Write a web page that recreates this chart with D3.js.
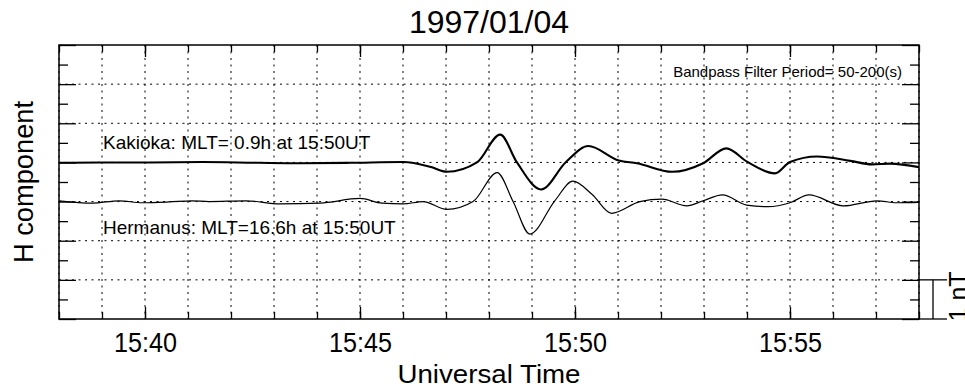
<!DOCTYPE html>
<html>
<head>
<meta charset="utf-8">
<script src="https://cdn.jsdelivr.net/npm/d3@7"></script>
<style>
  body { margin: 0; background: #fff; }
  svg { display: block; }
  text { font-family: "Liberation Sans", Arial, Helvetica, sans-serif; fill: #000; }
</style>
</head>
<body>
<div id="chart"></div>
<script>
// filtered H component (nT, deviation from station baseline), time in minutes after 15:00 UT
const kakiokaTime = [38.00, 38.95, 40.12, 41.33, 42.65, 43.60, 44.77, 46.00, 46.63, 47.02, 47.72, 48.26, 48.65, 49.21, 49.79, 50.31, 51.02, 51.44, 52.26, 52.98, 53.52, 54.00, 54.65, 55.00, 55.63, 56.40, 56.91, 57.33, 58.00];
const kakiokaH    = [-0.01, 0.00, 0.00, 0.01, -0.01, -0.02, -0.01, 0.01, -0.11, -0.24, 0.00, 0.71, 0.00, -0.69, 0.01, 0.42, 0.05, -0.02, -0.24, -0.02, 0.36, 0.02, -0.28, 0.01, 0.15, 0.04, -0.05, -0.03, -0.12];

const hermanusTime = [38.00, 38.77, 39.40, 39.93, 40.56, 41.09, 41.49, 42.35, 43.14, 44.07, 45.00, 45.51, 46.00, 46.47, 47.02, 47.63, 48.19, 48.56, 48.95, 49.53, 49.95, 50.40, 50.85, 51.51, 52.02, 52.60, 52.98, 53.43, 53.99, 54.49, 55.00, 55.44, 56.24, 57.02, 57.48, 58.00];
const hermanusH    = [0.02, -0.04, 0.02, -0.03, -0.01, 0.02, 0.00, 0.02, -0.06, -0.04, 0.08, -0.04, -0.06, 0.00, -0.20, 0.00, 0.74, 0.00, -0.83, 0.02, 0.52, 0.18, -0.30, 0.00, 0.06, -0.11, 0.02, 0.17, -0.09, -0.13, -0.03, 0.17, -0.11, 0.02, -0.03, -0.02];

const stations = ['Kakioka', 'Hermanus'];
const stationOffset = [4, 3];   // nT, where each trace is drawn
const stationLabel = ['Kakioka: MLT= 0.9h at 15:50UT', 'Hermanus: MLT=16.6h at 15:50UT'];
const xTickLabels = ['15:40', '15:45', '15:50', '15:55'];
const yRange = [0, 7];
const titleText = '1997/01/04';
const filterText = 'Bandpass Filter Period= 50-200(s)';

const width = 965, height = 389;
const margin = { top: 45, right: 46, bottom: 70, left: 59 };
const innerW = width - margin.left - margin.right;
const innerH = height - margin.top - margin.bottom;

const t0 = Date.UTC(1997, 0, 4, 15, 0, 0);
const toDate = m => new Date(t0 + m * 60000);

const svg = d3.select('#chart').append('svg')
    .attr('width', width)
    .attr('height', height);

const g = svg.append('g')
    .attr('transform', `translate(${margin.left},${margin.top})`);

const x = d3.scaleUtc()
    .domain([toDate(38), toDate(58)])
    .range([0, innerW]);

const y = d3.scaleLinear()
    .domain(yRange)
    .range([innerH, 0]);

const fmt = d3.utcFormat('%H:%M');
const minorX = x.ticks(d3.utcMinute.every(1));
const majorX = x.ticks(d3.utcMinute.every(5)).filter(d => xTickLabels.includes(fmt(d)));
const majorY = d3.range(yRange[0], yRange[1] + 1);
const minorY = d3.range(yRange[0] + 0.5, yRange[1], 1);

// dotted grid
g.append('g').selectAll('line')
    .data(minorX)
    .join('line')
    .attr('x1', d => x(d)).attr('x2', d => x(d))
    .attr('y1', 0).attr('y2', innerH)
    .attr('stroke', '#000')
    .attr('stroke-width', 1)
    .attr('stroke-dasharray', '2,4.5');

g.append('g').selectAll('line')
    .data(majorY.slice(1, -1))
    .join('line')
    .attr('x1', 0).attr('x2', innerW)
    .attr('y1', d => y(d)).attr('y2', d => y(d))
    .attr('stroke', '#000')
    .attr('stroke-width', 1)
    .attr('stroke-dasharray', '2,4.5');

// inward ticks on all four sides
function styleAxis(sel) {
    sel.select('.domain').remove();
    sel.selectAll('.tick line').attr('stroke', '#000').attr('stroke-width', 1.3);
}

g.append('g').attr('transform', `translate(0,${innerH})`)
    .call(d3.axisBottom(x).tickValues(minorX).tickSize(-7).tickFormat(''))
    .call(styleAxis);
g.append('g')
    .call(d3.axisTop(x).tickValues(minorX).tickSize(-7).tickFormat(''))
    .call(styleAxis);
g.append('g')
    .call(d3.axisTop(x).tickValues(majorX).tickSize(-12).tickFormat(''))
    .call(styleAxis);

const xAxis = g.append('g').attr('transform', `translate(0,${innerH})`)
    .call(d3.axisBottom(x).tickValues(majorX).tickSize(-12).tickPadding(14).tickFormat(fmt))
    .call(styleAxis);
xAxis.selectAll('.tick text')
    .style('font-size', '27px')
    .attr('textLength', 63)
    .attr('lengthAdjust', 'spacingAndGlyphs');

g.append('g')
    .call(d3.axisLeft(y).tickValues(majorY).tickSize(-17).tickFormat(''))
    .call(styleAxis);
g.append('g')
    .call(d3.axisLeft(y).tickValues(minorY).tickSize(-9).tickFormat(''))
    .call(styleAxis);
g.append('g').attr('transform', `translate(${innerW},0)`)
    .call(d3.axisRight(y).tickValues(majorY).tickSize(-17).tickFormat(''))
    .call(styleAxis);
g.append('g').attr('transform', `translate(${innerW},0)`)
    .call(d3.axisRight(y).tickValues(minorY).tickSize(-9).tickFormat(''))
    .call(styleAxis);

// traces
const series = [
    { name: stations[0], time: kakiokaTime, h: kakiokaH, offset: stationOffset[0], w: 2.1 },
    { name: stations[1], time: hermanusTime, h: hermanusH, offset: stationOffset[1], w: 1.2 }
];

svg.append('clipPath').attr('id', 'plot-clip')
    .append('rect').attr('x', 0).attr('y', 0).attr('width', innerW).attr('height', innerH);

const line = d3.line()
    .x(d => x(toDate(d.t)))
    .y(d => y(d.v))
    .curve(d3.curveMonotoneX);

series.forEach(s => {
    const pts = s.time.map((t, i) => ({ t: t, v: s.offset + s.h[i] }));
    g.append('path')
        .datum(pts)
        .attr('clip-path', 'url(#plot-clip)')
        .attr('fill', 'none')
        .attr('stroke', '#000')
        .attr('stroke-width', s.w)
        .attr('stroke-linejoin', 'round')
        .attr('d', line);
});

// frame
g.append('rect')
    .attr('width', innerW).attr('height', innerH)
    .attr('fill', 'none')
    .attr('stroke', '#000')
    .attr('stroke-width', 1.5);

// station labels
g.append('text')
    .attr('x', x(toDate(39)) + 1)
    .attr('y', y(stationOffset[0] + 0.35))
    .style('font-size', '19px')
    .text(stationLabel[0]);
g.append('text')
    .attr('x', x(toDate(39)) + 1)
    .attr('y', y(stationOffset[1] - 0.83))
    .style('font-size', '19px')
    .text(stationLabel[1]);

g.append('text')
    .attr('x', innerW - 17)
    .attr('y', 32)
    .attr('text-anchor', 'end')
    .style('font-size', '15px')
    .text(filterText);

// scale bar: 1 nT
const bar = svg.append('g').attr('transform', `translate(${margin.left + innerW},${margin.top})`);
bar.append('line')
    .attr('x1', 0).attr('x2', 28)
    .attr('y1', y(1)).attr('y2', y(1))
    .attr('stroke', '#000').attr('stroke-width', 1.3);
bar.append('line')
    .attr('x1', 0).attr('x2', 28)
    .attr('y1', y(0)).attr('y2', y(0))
    .attr('stroke', '#000').attr('stroke-width', 1.3);
bar.append('line')
    .attr('x1', 14).attr('x2', 14)
    .attr('y1', y(1)).attr('y2', y(0))
    .attr('stroke', '#000').attr('stroke-width', 1.3);
bar.append('text')
    .attr('transform', `translate(48,${(y(1) + y(0)) / 2 - 3}) rotate(-90)`)
    .attr('text-anchor', 'middle')
    .style('font-size', '25px')
    .text('1 nT');

// titles
svg.append('text')
    .attr('x', margin.left + innerW / 2)
    .attr('y', 33)
    .attr('text-anchor', 'middle')
    .style('font-size', '32px')
    .text(titleText);

svg.append('text')
    .attr('x', margin.left + innerW / 2)
    .attr('y', 383)
    .attr('text-anchor', 'middle')
    .style('font-size', '26px')
    .attr('textLength', 183)
    .attr('lengthAdjust', 'spacingAndGlyphs')
    .text('Universal Time');

svg.append('text')
    .attr('transform', `translate(33,${margin.top + innerH / 2}) rotate(-90)`)
    .attr('text-anchor', 'middle')
    .style('font-size', '28px')
    .attr('textLength', 162)
    .attr('lengthAdjust', 'spacingAndGlyphs')
    .text('H component');
</script>
</body>
</html>
